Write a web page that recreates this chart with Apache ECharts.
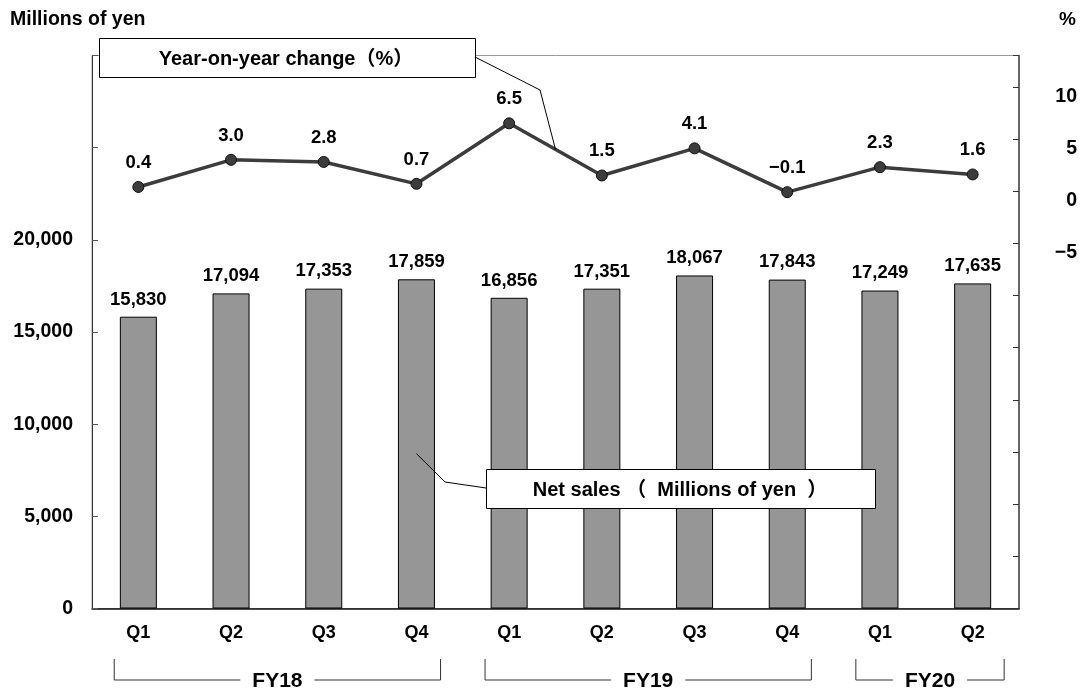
<!DOCTYPE html>
<html>
<head>
<meta charset="utf-8">
<script src="https://cdn.jsdelivr.net/npm/echarts@6/dist/echarts.min.js"></script>
<style>
  html, body { margin: 0; padding: 0; background: #fff; }
  #main { width: 1084px; height: 696px; }
</style>
</head>
<body>
<div id="main"></div>
<script>
// Quarterly net sales and year-on-year change
const quarters = ['Q1', 'Q2', 'Q3', 'Q4', 'Q1', 'Q2', 'Q3', 'Q4', 'Q1', 'Q2'];
const netSales = [15830, 17094, 17353, 17859, 16856, 17351, 18067, 17843, 17249, 17635];
const yoyChange = [0.4, 3.0, 2.8, 0.7, 6.5, 1.5, 4.1, -0.1, 2.3, 1.6];
const fiscalYears = ['FY18', 'FY19', 'FY20'];
const fiscalFrom = [0, 4, 8];
const fiscalTo = [3, 7, 9];
const salesLabelMax = 20000;          // left labels shown up to this value
const changeLabels = [10, 5, 0, -5];  // right labels shown

const FONT = '"Liberation Sans", Arial, "Noto Sans CJK JP", sans-serif';
const minus = s => String(s).replace('-', '\u2212');

const chart = echarts.init(document.getElementById('main'), null, { renderer: 'canvas' });

const option = {
  animation: false,
  backgroundColor: '#fff',
  textStyle: { fontFamily: FONT },
  grid: {
    left: 92, right: 65, top: 55.5, bottom: 87.5,
    show: true, borderColor: '#9a9a9a', borderWidth: 1, backgroundColor: 'transparent'
  },
  xAxis: {
    type: 'category',
    data: quarters,
    boundaryGap: true,
    axisLine: { lineStyle: { color: '#111', width: 1.5 } },
    axisTick: { inside: true, length: 5, interval: 0, lineStyle: { color: '#333' } },
    axisLabel: { margin: 16, color: '#000', fontSize: 18, fontWeight: 'bold', fontFamily: FONT, interval: 0 }
  },
  yAxis: [
    {
      type: 'value',
      min: 0, max: 30000, interval: 5000,
      axisLine: { show: true, lineStyle: { color: '#333', width: 1 } },
      axisTick: { show: true, inside: true, length: 6, lineStyle: { color: '#555' } },
      splitLine: { show: false },
      axisLabel: {
        margin: 19, color: '#000', fontSize: 19.5, fontWeight: 'bold', fontFamily: FONT,
        formatter: v => (v <= salesLabelMax ? v.toLocaleString('en-US') : '')
      }
    },
    {
      type: 'value',
      min: -40, max: 13, interval: 5,
      position: 'right',
      axisLine: { show: true, lineStyle: { color: '#444', width: 1.5 } },
      axisTick: { show: true, inside: true, length: 6, lineStyle: { color: '#333' } },
      splitLine: { show: false },
      axisLabel: {
        margin: 58, align: 'right', verticalAlign: 'top', color: '#000',
        fontSize: 19.5, fontWeight: 'bold', fontFamily: FONT,
        formatter: v => (changeLabels.indexOf(v) >= 0 ? minus(v) : '')
      }
    }
  ],
  series: [
    {
      name: 'Net sales',
      type: 'bar',
      data: netSales,
      barWidth: 37,
      yAxisIndex: 0,
      itemStyle: { color: '#969696', borderColor: '#000', borderWidth: 1 },
      label: {
        show: true, position: 'top', distance: 8,
        color: '#000', fontSize: 18.5, fontWeight: 'bold', fontFamily: FONT,
        formatter: p => p.value.toLocaleString('en-US')
      },
      z: 2
    },
    {
      name: 'Year-on-year change',
      type: 'line',
      data: yoyChange,
      yAxisIndex: 1,
      symbol: 'circle',
      symbolSize: 11,
      lineStyle: { color: '#3c3c3c', width: 3.5 },
      itemStyle: { color: '#3c3c3c', borderColor: '#111', borderWidth: 1 },
      label: {
        show: true, position: 'top', distance: 9,
        color: '#000', fontSize: 18.5, fontWeight: 'bold', fontFamily: FONT,
        formatter: p => minus(p.value.toFixed(1))
      },
      z: 4
    }
  ]
};

chart.setOption(option);

// Annotations placed from the axes' own scales
const ctx = document.createElement('canvas').getContext('2d');
function textWidth(str, size) {
  ctx.font = 'bold ' + size + 'px ' + FONT;
  return ctx.measureText(str).width;
}
const px = (i, v, axis) => chart.convertToPixel({ xAxisIndex: 0, yAxisIndex: axis }, [i, v]);
const catW = px(1, 0, 0)[0] - px(0, 0, 0)[0];
const graphics = [];

// Fiscal-year brackets under the quarter labels
const bracketTop = 659, bracketY = 680;
fiscalYears.forEach((fy, k) => {
  const x0 = px(fiscalFrom[k], 0, 0)[0] - catW * 0.26;
  const x1 = px(fiscalTo[k], 0, 0)[0] + catW * (k === 2 ? 0.34 : 0.26);
  const cx = (x0 + x1) / 2;
  const half = textWidth(fy, 21) / 2 + 12;
  graphics.push({
    type: 'polyline', silent: true,
    shape: { points: [[x0, bracketTop], [x0, bracketY], [cx - half, bracketY]] },
    style: { stroke: '#333', lineWidth: 1, fill: null }
  });
  graphics.push({
    type: 'polyline', silent: true,
    shape: { points: [[cx + half, bracketY], [x1, bracketY], [x1, bracketTop]] },
    style: { stroke: '#333', lineWidth: 1, fill: null }
  });
  graphics.push({
    type: 'text', silent: true, x: cx, y: bracketY + 1,
    style: { text: fy, fill: '#000', font: 'bold 21px ' + FONT, align: 'center', verticalAlign: 'middle' }
  });
});

// Axis unit captions
graphics.push({
  type: 'text', x: 10, y: 20,
  style: { text: 'Millions of yen', fill: '#000', font: 'bold 19.5px ' + FONT, align: 'left', verticalAlign: 'middle' }
});
graphics.push({
  type: 'text', x: 1076, y: 20,
  style: { text: '%', fill: '#000', font: 'bold 19px ' + FONT, align: 'right', verticalAlign: 'middle' }
});

// Callout: year-on-year change
const a = px(4, yoyChange[4], 1), b = px(5, yoyChange[5], 1);
const lineAnchor = [(a[0] + b[0]) / 2, (a[1] + b[1]) / 2];
graphics.push({
  type: 'polyline', silent: true, z: 10,
  shape: { points: [[475, 57], [540, 90], lineAnchor] },
  style: { stroke: '#000', lineWidth: 1, fill: null }
});
graphics.push({
  type: 'rect', z: 11, shape: { x: 99.5, y: 38.5, width: 376, height: 39 },
  style: { fill: '#fff', stroke: '#000', lineWidth: 1 }
});
graphics.push({
  type: 'text', z: 12, x: 286, y: 59,
  style: { text: 'Year-on-year change\uFF08%\uFF09', fill: '#000', font: 'bold 20px ' + FONT, align: 'center', verticalAlign: 'middle' }
});

// Callout: net sales
const barAnchor = px(3, 8400, 0);
graphics.push({
  type: 'polyline', silent: true, z: 10,
  shape: { points: [barAnchor, [445, 482], [486, 488]] },
  style: { stroke: '#000', lineWidth: 1, fill: null }
});
graphics.push({
  type: 'rect', z: 11, shape: { x: 486.5, y: 469.5, width: 389, height: 39 },
  style: { fill: '#fff', stroke: '#000', lineWidth: 1 }
});
graphics.push({
  type: 'text', z: 12, x: 680, y: 490,
  style: { text: 'Net sales \uFF08  Millions of yen  \uFF09', fill: '#000', font: 'bold 20px ' + FONT, align: 'center', verticalAlign: 'middle' }
});

chart.setOption({ graphic: graphics });
</script>
</body>
</html>
